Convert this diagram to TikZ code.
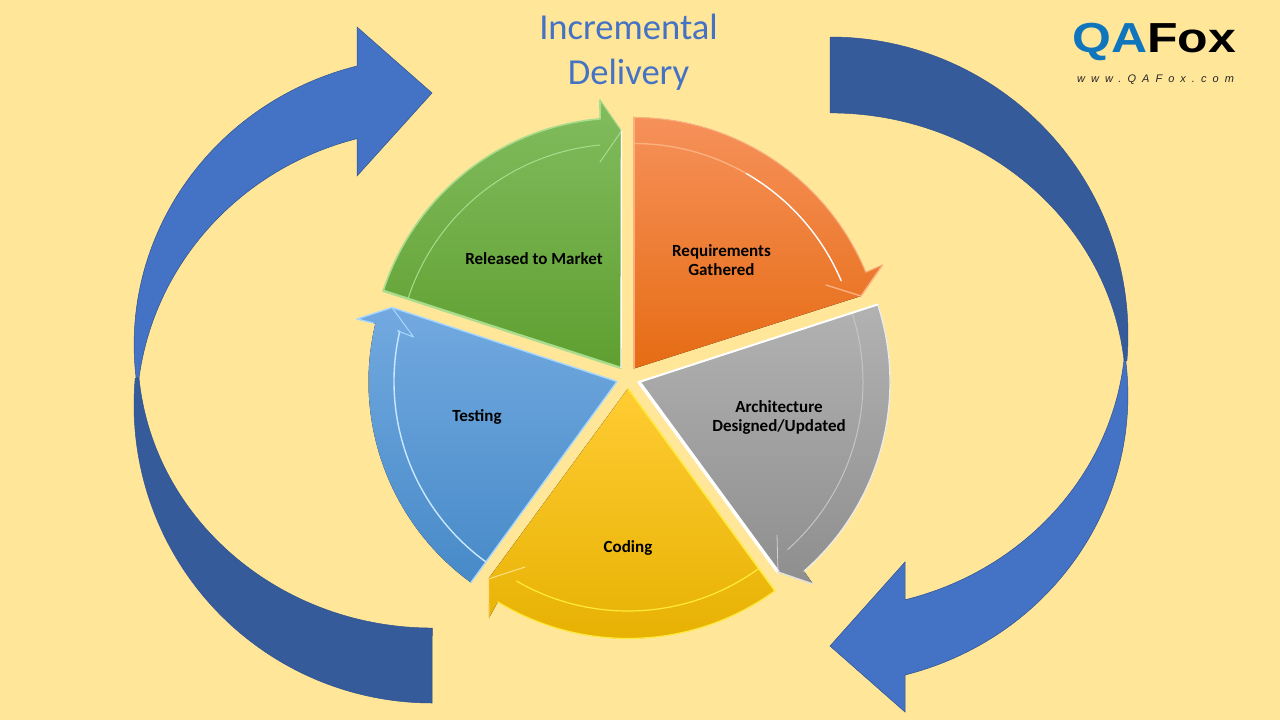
\documentclass[tikz,border=0pt]{standalone}
\usepackage{fontspec}
\setmainfont{Carlito}
\newfontfamily\logofont{Liberation Sans}
\usetikzlibrary{shadings}
\definecolor{bgc}{HTML}{FFE699}
\definecolor{bandlight}{HTML}{4472C4}
\definecolor{banddark}{HTML}{355B9A}
\definecolor{bandedge}{HTML}{2F528F}
\definecolor{logoblue}{HTML}{0F75BC}
\tikzset{
  bigband/.style={draw=bandedge,line width=0.5pt,line join=miter},
  lbl/.style={font=\bfseries\fontsize{17}{19}\selectfont,align=center,text=black,inner sep=0pt},
  hl/.style={line width=#1,line join=round,line cap=round},
  hl/.default=1pt
}
\definecolor{green1}{HTML}{82BC5E}
\definecolor{green2}{HTML}{5F9F30}
\definecolor{greenhl}{HTML}{A9DC8C}
\definecolor{orange1}{HTML}{F6915A}
\definecolor{orange2}{HTML}{E66C14}
\definecolor{orangehl}{HTML}{FBB07F}
\definecolor{grey1}{HTML}{B2B2B2}
\definecolor{grey2}{HTML}{8E8E8E}
\definecolor{gold1}{HTML}{FFCC33}
\definecolor{gold2}{HTML}{FFC600}
\definecolor{gold3}{HTML}{E6B000}
\definecolor{goldhl}{HTML}{FFEB3C}
\definecolor{blue1}{HTML}{72A9E0}
\definecolor{blue2}{HTML}{478AC8}
\definecolor{bluehl}{HTML}{A6D8FF}
\begin{document}
\begin{tikzpicture}[x=1pt,y=-1pt]
\useasboundingbox (0,0) rectangle (1280,720);
\fill[bgc] (0,0) rectangle (1280,720);

% big right arrow
\draw[bigband,fill=banddark] (830,37) arc[start angle=270,end angle=365,x radius=298,y radius=298]
  -- (1124,360) arc[start angle=353.8,end angle=270,x radius=295.7,y radius=277] -- cycle;
\draw[bigband,fill=bandlight] (905,675) arc[start angle=75.4,end angle=-6.75,x radius=298,y radius=289]
  -- (1124,360) arc[start angle=6.17,end angle=75.3,x radius=295.7,y radius=278.9]
  -- (905,562) -- (830,646) -- (905,712) -- cycle;

% big left arrow
\draw[bigband,fill=banddark] (432,703) arc[start angle=90,end angle=185.2,x radius=298,y radius=298]
  -- (139,378) arc[start angle=174.6,end angle=90,x radius=294.6,y radius=276] -- cycle;
\draw[bigband,fill=bandlight] (357,66) arc[start angle=255.4,end angle=173.42,x radius=298,y radius=288]
  -- (139,378) arc[start angle=187.44,end angle=255.3,x radius=295.5,y radius=285.7]
  -- (357,176) -- (432,93) -- (357,27) -- cycle;

% apexes
\coordinate (G) at (621,368);
\coordinate (O) at (634,368.5);
\coordinate (A) at (639,382);
\coordinate (C) at (628,388.5);
\coordinate (B) at (617,381.5);

% green
\fill[top color=green1,bottom color=green2] (G) ++(198:250) arc[start angle=198,end angle=265.2,radius=250]
  -- (600,100) -- (621.5,131) -- (G) -- cycle;
\draw[greenhl,hl=1.6pt] (G) ++(198:250) arc[start angle=198,end angle=265.2,radius=250] -- (600,100);
\draw[greenhl,hl=1pt] (G) ++(198:224) arc[start angle=198,end angle=264.6,radius=224];
\draw[greenhl,hl=1pt] (600,162) -- (621.5,131) -- (600,100);
\draw[greenhl,hl=2.4pt] (G) ++(198:250) -- (G);
\draw[white,hl=1.4pt] (621.5,131) -- (G);

% orange
\fill[top color=orange1,bottom color=orange2] (O) ++(270:251) arc[start angle=270,end angle=337.45,radius=251]
  -- (882.5,265) -- (861,296) -- (O) -- cycle;
\draw[orangehl,hl=1pt] (O) ++(270:251) arc[start angle=270,end angle=337.45,radius=251] -- (882.5,265);
\draw[orangehl,hl=1.4pt] (O) ++(270:225) arc[start angle=270,end angle=300,radius=225];
\draw[white,hl=1.4pt] (O) ++(300:225) arc[start angle=300,end angle=337.05,radius=225];
\draw[orangehl,hl=1.4pt] (826,285) -- (861,296) -- (882.5,265);
\draw[orangehl,hl=1.4pt] (O) -- (634,117);

% grey
\fill[top color=grey1,bottom color=grey2] (A) ++(342:251) arc[start angle=342,end angle=408.9,radius=251]
  -- (813,584) -- (778,572) -- (A) -- cycle;
\draw[grey1!25!white,hl=1.3pt] (A) ++(342:251) arc[start angle=342,end angle=408.9,radius=251];
\draw[grey1!75!white,hl=1pt] (A) ++(342:224) arc[start angle=342,end angle=408.4,radius=224];
\draw[white,hl=2pt] (A) -- ++(342:251);
\draw[white,hl=3.4pt] (A) -- (778,572);
\draw[grey1!40!white,hl=1.4pt] (778,572) -- (813,584);
\draw[grey1!60!white,hl=0.8pt] (777,535) -- (778,572);

% gold
\fill[top color=gold1,middle color=gold2,bottom color=gold3] (C) ++(54:250) arc[start angle=54,end angle=121.4,radius=250]
  -- (489,618) -- (488.3,579) -- (C) -- cycle;
\draw[goldhl,hl=1.2pt] (C) ++(54:250) arc[start angle=54,end angle=121.4,radius=250];
\draw[goldhl,hl=1.2pt] (C) ++(54:222.5) arc[start angle=54,end angle=120,radius=222.5];
\draw[goldhl,hl=1.6pt] (C) -- ++(54:250);
\draw[gold1!60!white,hl=1pt] (525,567) -- (488.3,579) -- (489,618);

% blue
\fill[top color=blue1,bottom color=blue2] (B) ++(126:248.5) arc[start angle=126,end angle=193.5,radius=248.5]
  -- (357,319) -- (392,307.5) -- (B) -- cycle;
\draw[bluehl,hl=1.4pt] (373,323) -- (357,319) -- (392,307.5) -- (B) -- ++(126:248.5);
\draw[bluehl!60!white,hl=1.4pt] (B) ++(126:223) arc[start angle=126,end angle=193,radius=223] -- (398,331);
\draw[bluehl,hl=1pt] (392,307.5) -- (413.5,337) -- (398,331);

% labels
\node[lbl] (released) at (534,259) {Released to Market};
\node[lbl] (requirements) at (721.5,260.5) {Requirements\\Gathered};
\node[lbl] (architecture) at (779,417) {Architecture\\Designed/Updated};
\node[lbl] (coding) at (628,548) {Coding};
\node[lbl] (testing) at (477,417) {Testing};

% title
\node[font=\fontsize{36.6}{45}\selectfont,text=bandlight,align=center,inner sep=0pt] (title) at (628.5,52) {Incremental\\Delivery};

% logo
\node[font=\logofont\bfseries\fontsize{42}{42}\selectfont,inner sep=0pt,anchor=base west,xscale=1.19,transform shape] (logo) at (1072,52)
  {\textcolor{logoblue}{QA}\textcolor{black}{Fox}};
\node[font=\logofont\itshape\fontsize{11}{11}\selectfont,inner sep=0pt,text=black!85] (web) at (1155.5,79.5)
  {\addfontfeatures{LetterSpace=55}www.QAFox.com};
\end{tikzpicture}
\end{document}
